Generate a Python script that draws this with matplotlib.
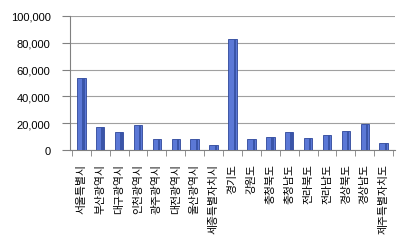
import matplotlib
matplotlib.use("Agg")
import matplotlib.pyplot as plt
import numpy as np

categories = ["서울특별시", "부산광역시", "대구광역시", "인천광역시", "광주광역시", "대전광역시",
              "울산광역시", "세종특별자치시", "경기도", "강원도", "충청북도", "충청남도",
              "전라북도", "전라남도", "경상북도", "경상남도", "제주특별자치도"]
values = [54000, 17500, 13500, 18500, 8500, 8500, 8000, 4000, 83000, 8500, 9500,
          13500, 9000, 11000, 14500, 19500, 5000]
yticks = [0, 20000, 40000, 60000, 80000, 100000]

plt.rcParams['font.family'] = ['Noto Sans CJK KR', 'DejaVu Sans']

fig = plt.figure(figsize=(4.13, 2.53), dpi=100)
ax = fig.add_axes([70/413, 1-151/253, 325/413, 134/253])

x = np.arange(len(categories))
ax.bar(x, values, width=0.45, color='#5B78D6', edgecolor='#2E4699', linewidth=0.6, zorder=3)
ax.bar(x + 0.12, values, width=0.12, color='#3A55A8', linewidth=0, zorder=4)

ax.set_xlim(-0.6, len(categories) - 0.4)
ax.set_ylim(0, 100000)
ax.set_yticks(yticks)
ax.set_yticklabels([f"{v:,}" for v in yticks], fontsize=8, family=['Liberation Sans', 'DejaVu Sans'])
ax.yaxis.grid(True, color='#A0A0A0', linewidth=0.8, zorder=0)
ax.set_xticks(x)
ax.set_xticklabels(categories, rotation=90, fontsize=7.8, va='top')
ax.set_xticks(np.arange(len(categories) + 1) - 0.5, minor=True)
ax.tick_params(axis='x', which='major', length=0, pad=9)
ax.tick_params(axis='x', which='minor', length=4, color='#808080')
ax.tick_params(axis='y', length=6, color='#808080', pad=8)
for s in ['top', 'right']:
    ax.spines[s].set_visible(False)
for s in ['left', 'bottom']:
    ax.spines[s].set_color('#808080')

fig.savefig("out.png", dpi=100)
